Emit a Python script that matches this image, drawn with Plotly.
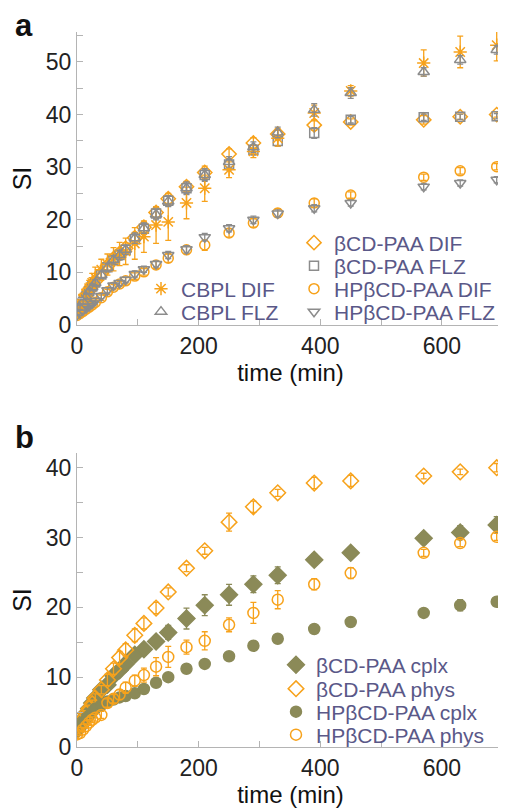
import plotly.graph_objects as go

# ---------------- data ----------------
time = [0, 5, 10, 15, 20, 25, 30, 40, 50, 60, 70, 80, 95, 110, 130, 150,
        180, 210, 250, 290, 330, 390, 450, 570, 630, 690]

# panel a
bcd_dif = [2.3, 3.5, 4.6, 5.6, 6.6, 7.5, 8.3, 9.8, 11.2, 12.6, 13.6, 14.6, 16.6, 18.6, 21.4, 24.0,
           26.3, 29.0, 32.5, 34.6, 36.3, 38.0, 38.6, 39.0, 39.6, 40.0]
bcd_dif_err = [0.3, 0.4, 0.5, 0.5, 0.6, 0.6, 0.7, 0.8, 0.8, 0.9, 0.9, 1.0, 1.0, 1.0, 1.0, 1.0,
               1.0, 1.2, 1.0, 1.0, 1.0, 1.0, 0.6, 0.8, 0.5, 0.5]
bcd_flz = [2.2, 3.3, 4.4, 5.4, 6.4, 7.3, 8.1, 9.6, 11.0, 12.3, 13.3, 14.3, 16.3, 18.3, 21.2, 23.6,
           26.0, 28.5, 30.5, 33.3, 35.0, 36.5, 39.0, 39.5, 39.6, 39.7]
bcd_flz_err = [0.3, 0.4, 0.4, 0.5, 0.5, 0.6, 0.6, 0.7, 0.8, 0.8, 0.9, 0.9, 1.0, 1.0, 1.0, 1.0,
               1.2, 1.2, 1.0, 1.0, 1.0, 1.0, 0.6, 0.6, 0.5, 0.5]
cbpl_dif = [2.5, 3.8, 5.0, 6.0, 7.0, 8.0, 9.0, 10.5, 11.5, 12.5, 13.5, 14.0, 15.5, 16.8, 19.0, 19.6,
            23.2, 26.0, 29.5, 33.0, 35.5, 40.3, 44.5, 49.8, 51.9, 53.2]
cbpl_dif_err = [0.5, 0.8, 1.0, 1.2, 1.5, 1.8, 2.0, 2.0, 2.0, 2.2, 2.2, 2.5, 3.0, 3.0, 3.5, 3.5,
                3.0, 2.5, 1.5, 1.2, 1.5, 1.5, 1.0, 2.5, 3.0, 3.0]
cbpl_flz = [2.3, 3.3, 4.4, 5.4, 6.4, 7.2, 8.0, 9.5, 10.9, 12.4, 13.3, 14.3, 16.5, 18.4, 21.0, 23.5,
            26.0, 28.5, 31.0, 33.8, 36.6, 40.9, 44.1, 48.1, 50.4, 52.3]
cbpl_flz_err = [0.3, 0.4, 0.4, 0.5, 0.5, 0.6, 0.6, 0.7, 0.8, 0.8, 0.9, 0.9, 1.0, 1.0, 1.0, 1.0,
                1.0, 1.0, 1.0, 1.0, 1.0, 1.2, 1.0, 0.8, 0.8, 0.8]
hp_dif = [1.8, 2.2, 2.6, 3.0, 3.4, 3.8, 4.3, 5.2, 6.3, 7.2, 7.8, 8.4, 9.3, 10.1, 11.4, 12.7,
          14.3, 15.2, 17.5, 19.4, 21.3, 23.2, 24.7, 28.1, 29.3, 30.1]
hp_dif_err = [0.2, 0.3, 0.3, 0.3, 0.4, 0.4, 0.4, 0.5, 0.5, 0.5, 0.5, 0.6, 0.6, 0.6, 0.7, 0.8,
              0.8, 1.0, 0.8, 0.8, 0.8, 0.8, 0.6, 0.6, 0.6, 0.6]
hp_flz = [1.9, 2.3, 2.8, 3.2, 3.6, 4.1, 4.6, 5.5, 6.6, 7.5, 8.0, 8.6, 9.7, 10.6, 11.6, 13.3,
          14.4, 16.7, 18.4, 20.0, 21.2, 22.2, 23.2, 26.3, 27.0, 27.6]
hp_flz_err = [0.2, 0.3, 0.3, 0.3, 0.4, 0.4, 0.4, 0.5, 0.5, 0.5, 0.5, 0.5, 0.6, 0.6, 0.6, 0.7,
              0.7, 0.7, 0.7, 0.7, 0.7, 0.7, 0.6, 0.6, 0.6, 0.6]

# panel b
bcd_cplx = [2.5, 3.0, 4.0, 4.8, 5.5, 6.3, 7.0, 8.2, 8.9, 10.2, 11.0, 11.9, 13.2, 14.0, 15.1, 16.4,
            18.4, 20.3, 21.8, 23.3, 24.6, 26.8, 27.8, 29.9, 30.7, 31.8]
bcd_cplx_err = [0.3, 0.3, 0.4, 0.4, 0.5, 0.5, 0.5, 0.6, 0.6, 0.7, 0.7, 0.8, 0.8, 0.8, 0.8, 1.0,
                1.5, 1.5, 1.5, 1.2, 1.2, 0.8, 0.6, 0.8, 1.0, 1.2]
bcd_phys = [2.3, 3.0, 4.0, 4.8, 5.5, 6.2, 7.0, 8.2, 9.6, 11.2, 12.8, 13.9, 16.0, 17.7, 19.9, 22.2,
            25.6, 28.1, 32.2, 34.4, 36.4, 37.8, 38.1, 38.8, 39.4, 40.0]
bcd_phys_err = [0.3, 0.3, 0.4, 0.4, 0.5, 0.5, 0.6, 0.6, 0.8, 0.8, 0.9, 0.9, 0.9, 0.8, 0.8, 0.6,
                0.5, 0.5, 1.3, 0.8, 0.5, 0.8, 0.8, 0.4, 0.4, 0.6]
hp_cplx = [2.3, 3.0, 3.5, 4.0, 4.5, 5.0, 5.5, 6.0, 6.5, 6.8, 7.1, 7.3, 7.7, 8.3, 9.2, 10.0,
           11.2, 11.9, 13.0, 14.5, 15.5, 16.9, 17.9, 19.2, 20.3, 20.8]
hp_cplx_err = [0.2, 0.2, 0.3, 0.3, 0.3, 0.3, 0.3, 0.4, 0.4, 0.4, 0.4, 0.4, 0.4, 0.5, 0.5, 0.6,
               0.5, 0.5, 0.5, 0.5, 0.4, 0.5, 0.4, 0.4, 0.8, 0.6]
hp_phys = [1.8, 2.0, 2.5, 3.0, 3.5, 3.9, 4.2, 4.6, 6.3, 6.9, 7.5, 8.5, 9.5, 10.3, 11.5, 12.9,
           14.3, 15.2, 17.5, 19.2, 21.1, 23.3, 24.9, 27.8, 29.2, 30.1]
hp_phys_err = [0.2, 0.3, 0.3, 0.3, 0.4, 0.4, 0.5, 0.5, 0.6, 0.6, 0.7, 0.8, 0.8, 1.0, 1.3, 1.5,
               1.0, 1.3, 1.0, 1.5, 1.3, 0.8, 0.8, 0.5, 0.5, 0.5]

x_ticks = [0, 200, 400, 600]

# ---------------- style ----------------
ORANGE = "#f7a21b"
GREY = "#8c8c8c"
OLIVE = "#8b8a58"
LEGTXT = "#5a5888"
FONT = "Liberation Sans, Arial, sans-serif"

# the page body has an 8px margin, so the figure is 8px smaller than the window
OFF = 8
W, H = 506 - OFF, 811 - OFF
ML, MR, MT, MB = 77 - OFF, 2, 32 - OFF, 64
PH = H - MT - MB
PW = W - ML - MR


def py(y_page):
    return (H - MB - (y_page - OFF)) / PH


def px_(x_page):
    return (x_page - OFF - ML) / PW


fig = go.Figure()
legends = {}


def add(x, y, err, name, symbol, color, xa, ya, leg_left, leg_y, size=10):
    key = "legend" if not legends else "legend%d" % (len(legends) + 1)
    legends[key] = dict(x=px_(leg_left), xanchor="left", y=py(leg_y), yanchor="middle",
                        font=dict(family=FONT, size=21, color=LEGTXT),
                        bgcolor="rgba(0,0,0,0)", borderwidth=0, itemwidth=30)
    fig.add_trace(go.Scatter(
        x=x, y=y, name=name, mode="markers", xaxis=xa, yaxis=ya, legend=key,
        error_y=dict(type="data", array=err, color=color, thickness=1.3, width=3),
        marker=dict(symbol=symbol, size=size, color=color,
                    line=dict(color=color, width=1.5)),
    ))


# panel a (top)
add(time, bcd_dif, bcd_dif_err, "βCD-PAA DIF", "diamond-open", ORANGE, "x", "y", 294, 243, 11)
add(time, bcd_flz, bcd_flz_err, "βCD-PAA FLZ", "square-open", GREY, "x", "y", 294, 266, 9)
add(time, hp_dif, hp_dif_err, "HPβCD-PAA DIF", "circle-open", ORANGE, "x", "y", 294, 289, 10)
add(time, hp_flz, hp_flz_err, "HPβCD-PAA FLZ", "triangle-down-open", GREY, "x", "y", 294, 312, 10)
add(time, cbpl_dif, cbpl_dif_err, "CBPL DIF", "asterisk-open", ORANGE, "x", "y", 141, 289, 11)
add(time, cbpl_flz, cbpl_flz_err, "CBPL FLZ", "triangle-up-open", GREY, "x", "y", 141, 312, 10)

# panel b (bottom)
add(time, bcd_cplx, bcd_cplx_err, "βCD-PAA cplx", "diamond", OLIVE, "x2", "y2", 276, 665, 13)
add(time, bcd_phys, bcd_phys_err, "βCD-PAA phys", "diamond-open", ORANGE, "x2", "y2", 276, 689, 12)
add(time, hp_cplx, hp_cplx_err, "HPβCD-PAA cplx", "circle", OLIVE, "x2", "y2", 276, 712, 11)
add(time, hp_phys, hp_phys_err, "HPβCD-PAA phys", "circle-open", ORANGE, "x2", "y2", 276, 735, 11)

axis_common = dict(
    showline=True, linecolor="#b4b4b4", linewidth=1.2, showgrid=False, zeroline=False,
    ticks="inside", ticklen=6, tickcolor="#b4b4b4", tickwidth=1.2,
    tickfont=dict(family=FONT, size=23, color="#222222"),
    mirror=False, automargin=False,
)
xaxis_common = dict(axis_common, range=[0, 702], tickvals=x_ticks,
                    minor=dict(ticks="inside", dtick=100, tick0=0, ticklen=6,
                               tickcolor="#b4b4b4"),
                    title=dict(text="time (min)", font=dict(family=FONT, size=24, color="#111111"),
                               standoff=6))
yaxis_common = dict(axis_common, dtick=10,
                    minor=dict(ticks="inside", dtick=5, ticklen=6, tickcolor="#b4b4b4"),
                    title=dict(text="SI", font=dict(family=FONT, size=25, color="#111111"),
                               standoff=8))

fig.update_layout(
    width=W, height=H,
    margin=dict(l=ML, r=MR, t=MT, b=MB, autoexpand=False),
    paper_bgcolor="white", plot_bgcolor="white",
    font=dict(family=FONT),
    xaxis=dict(xaxis_common, anchor="y", domain=[0, 1]),
    yaxis=dict(yaxis_common, anchor="x", domain=[py(325), 1], range=[0, 55.7]),
    xaxis2=dict(xaxis_common, anchor="y2", domain=[0, 1]),
    yaxis2=dict(yaxis_common, anchor="x2", domain=[0, py(453)], range=[0, 42.1]),
    showlegend=True,
    annotations=[
        dict(text="<b>a</b>", x=px_(24), y=py(26), xref="paper", yref="paper",
             xanchor="center", yanchor="middle",
             showarrow=False, font=dict(family=FONT, size=31, color="#111111")),
        dict(text="<b>b</b>", x=px_(24), y=py(437), xref="paper", yref="paper",
             xanchor="center", yanchor="middle",
             showarrow=False, font=dict(family=FONT, size=31, color="#111111")),
    ],
)
fig.update_layout(**legends)

fig.write_html("out.html")
